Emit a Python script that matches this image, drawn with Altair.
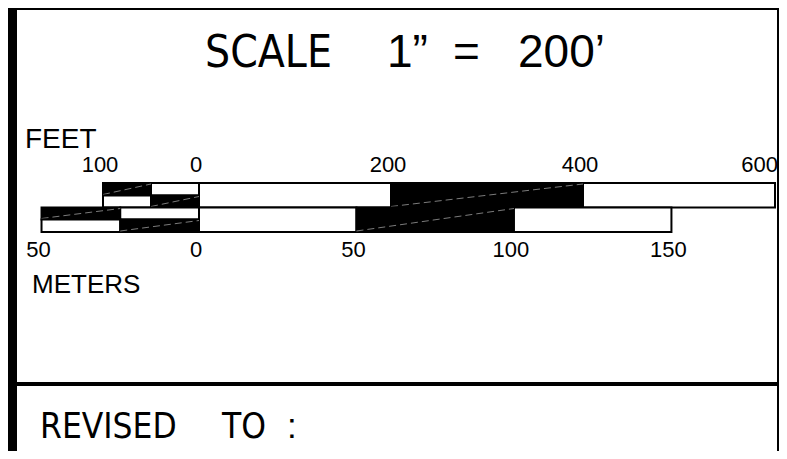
import altair as alt
import pandas as pd

FT_PER_M = 3.28084

# ---- scale-bar data (feet row) ----
feet_main_start = [0, 200, 400]
feet_main_end = [200, 400, 600]
feet_main_fill = ["white", "black", "white"]
feet_sub_start = [-100, -50]
feet_sub_end = [-50, 0]
feet_sub_upper_fill = ["black", "white"]
feet_sub_lower_fill = ["white", "black"]

# ---- scale-bar data (meters row) ----
meter_main_start = [0, 50, 100]
meter_main_end = [50, 100, 150]
meter_main_fill = ["white", "black", "white"]
meter_sub_start = [-50, -25]
meter_sub_end = [-25, 0]
meter_sub_upper_fill = ["black", "white"]
meter_sub_lower_fill = ["white", "black"]

# ---- tick labels ----
feet_tick_values = [-100, 0, 200, 400, 600]
feet_tick_labels = ["100", "0", "200", "400", "600"]
meter_tick_values = [-50, 0, 50, 100, 150]
meter_tick_labels = ["50", "0", "50", "100", "150"]

W, H = 771, 443
PX_PER_FT = 0.96
ZERO_PX = 191
xscale = alt.Scale(domain=[-ZERO_PX / PX_PER_FT, (W - ZERO_PX) / PX_PER_FT], nice=False, zero=False)

LETTER_FONT = "Liberation Sans Narrow, DejaVu Sans Condensed, Liberation Sans, sans-serif"
DIGIT_FONT = "Liberation Sans, Arial, sans-serif"


def seg_df(starts, ends, fills, unit):
    factor = FT_PER_M if unit == "m" else 1.0
    return pd.DataFrame({
        "start": [s * factor for s in starts],
        "end": [e * factor for e in ends],
        "fill": fills,
    })


def rect_layer(df, top, bottom):
    base = alt.Chart(df)
    rect = base.mark_rect(stroke="black", strokeWidth=2).encode(
        x=alt.X("start:Q", scale=xscale, axis=None),
        x2="end:Q",
        y=alt.value(top),
        y2=alt.value(bottom),
        fill=alt.Fill("fill:N", scale=None),
    )
    hatch = base.transform_filter(alt.datum.fill == "black").mark_rule(
        color="#9a9a9a", strokeWidth=0.8, strokeDash=[7, 4]
    ).encode(
        x=alt.X("start:Q", scale=xscale, axis=None),
        x2="end:Q",
        y=alt.value(bottom - 1),
        y2=alt.value(top + 1),
    )
    return [rect, hatch]


FT_TOP, FT_MID, FT_BOT = 175, 187.5, 199.5
M_TOP, M_MID, M_BOT = 199.5, 211.5, 224

layers = []
layers += rect_layer(seg_df(feet_main_start, feet_main_end, feet_main_fill, "ft"), FT_TOP, FT_BOT)
layers += rect_layer(seg_df(feet_sub_start, feet_sub_end, feet_sub_upper_fill, "ft"), FT_TOP, FT_MID)
layers += rect_layer(seg_df(feet_sub_start, feet_sub_end, feet_sub_lower_fill, "ft"), FT_MID, FT_BOT)
layers += rect_layer(seg_df(meter_main_start, meter_main_end, meter_main_fill, "m"), M_TOP, M_BOT)
layers += rect_layer(seg_df(meter_sub_start, meter_sub_end, meter_sub_upper_fill, "m"), M_TOP, M_MID)
layers += rect_layer(seg_df(meter_sub_start, meter_sub_end, meter_sub_lower_fill, "m"), M_MID, M_BOT)

feet_ticks = pd.DataFrame({"v": feet_tick_values, "label": feet_tick_labels})
meter_ticks = pd.DataFrame({"v": [v * FT_PER_M for v in meter_tick_values], "label": meter_tick_labels})
last_feet = max(feet_tick_values)

layers.append(
    alt.Chart(feet_ticks).transform_filter(alt.datum.v < last_feet).mark_text(
        fontSize=22, font=DIGIT_FONT, baseline="alphabetic", align="center", dx=-3
    ).encode(x=alt.X("v:Q", scale=xscale, axis=None), y=alt.value(164), text="label:N")
)
layers.append(
    alt.Chart(feet_ticks).transform_filter(alt.datum.v == last_feet).mark_text(
        fontSize=22, font=DIGIT_FONT, baseline="alphabetic", align="right", dx=3
    ).encode(x=alt.X("v:Q", scale=xscale, axis=None), y=alt.value(164), text="label:N")
)
layers.append(
    alt.Chart(meter_ticks).mark_text(fontSize=22, font=DIGIT_FONT, baseline="alphabetic", align="center", dx=-3).encode(
        x=alt.X("v:Q", scale=xscale, axis=None), y=alt.value(249), text="label:N"
    )
)

one = pd.DataFrame({"k": [0]})


def box(x1, x2, y1, y2):
    return alt.Chart(one).mark_rect(color="black").encode(
        x=alt.value(x1), x2=alt.value(x2), y=alt.value(y1), y2=alt.value(y2)
    )


def label(text, x, y, size, font=LETTER_FONT):
    return alt.Chart(one).mark_text(
        fontSize=size, font=font, align="left", baseline="alphabetic", color="black"
    ).encode(x=alt.value(x), y=alt.value(y), text=alt.value(text))


# frame
layers.append(box(0, W, 0, 2))            # top bar
layers.append(box(0, 9, 0, H))            # left bar
layers.append(box(W - 2, W, 0, H))        # right line
layers.append(box(0, W, 374, 378))        # separator

# texts
layers.append(label("SCALE", 197, 59, 44))
layers.append(label("1\u201d", 379, 59, 46, DIGIT_FONT))
layers.append(label("=", 445, 59, 46, DIGIT_FONT))
layers.append(label("200\u2019", 510, 59, 46, DIGIT_FONT))
layers.append(label("FEET", 17, 140, 28, DIGIT_FONT))
layers.append(label("METERS", 24, 285, 26, DIGIT_FONT))
layers.append(label("REVISED", 32, 430, 35))
layers.append(label("TO", 214, 430, 35))
layers.append(label(":", 279, 430, 35, DIGIT_FONT))

chart = alt.layer(*layers).properties(
    width=W, height=H, padding=0, autosize=alt.AutoSizeParams(type="none"), background="white"
).configure_view(stroke=None)

chart.save("out.html", embed_options={"renderer": "svg", "actions": False})
